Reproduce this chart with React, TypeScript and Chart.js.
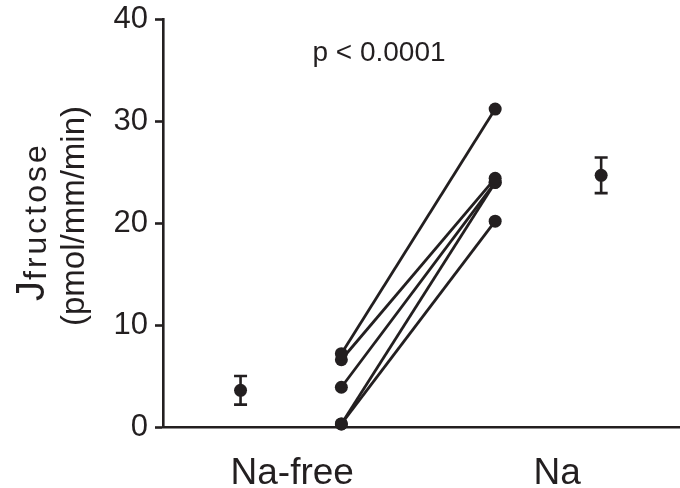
import React, { useEffect, useRef } from 'react';
import { Chart, registerables } from 'chart.js';

Chart.register(...registerables);

// ---- data ----
const categories = ['Na-free', 'Na'];
const naFreeValues = [7.2, 6.6, 3.9, 0.3, 0.3];
const naValues = [31.2, 24.4, 24.0, 24.0, 20.2];
const meanValues = [3.6, 24.7];
const semValues = [1.4, 1.75];
const yTickValues = [0, 10, 20, 30, 40];
const pValueLabel = 'p < 0.0001';
const yTitleMain = 'J';
const yTitleSub = 'fructose';
const yTitleUnits = '(pmol/mm/min)';

// ---- layout (x-positions on the linear axis) ----
const CATEGORY_X = [1, 2.025];
const PAIR_X = [1.19, 1.785];
const MEAN_X = [0.8, 2.195];

const INK = '#231f20';
const FONT = "'Liberation Sans', Arial, Helvetica, sans-serif";

const errorBarPlugin = {
  id: 'errorBars',
  afterDatasetsDraw(chart: any) {
    const { ctx, scales } = chart;
    const xs = scales.x;
    const ys = scales.y;
    ctx.save();
    ctx.strokeStyle = INK;
    ctx.lineWidth = 2.6;
    meanValues.forEach((m, i) => {
      const px = xs.getPixelForValue(MEAN_X[i]);
      const top = ys.getPixelForValue(m + semValues[i]);
      const bot = ys.getPixelForValue(m - semValues[i]);
      const half = 6.5;
      ctx.beginPath();
      ctx.moveTo(px, top);
      ctx.lineTo(px, bot);
      ctx.moveTo(px - half, top);
      ctx.lineTo(px + half, top);
      ctx.moveTo(px - half, bot);
      ctx.lineTo(px + half, bot);
      ctx.stroke();
    });
    ctx.restore();
  },
};

const textPlugin = {
  id: 'extraText',
  afterDraw(chart: any) {
    const { ctx } = chart;
    ctx.save();
    ctx.fillStyle = INK;
    ctx.textBaseline = 'alphabetic';

    // Y title: J with subscript
    ctx.save();
    ctx.translate(44, 301);
    ctx.rotate(-Math.PI / 2);
    ctx.font = `40px ${FONT}`;
    ctx.textAlign = 'left';
    ctx.fillText(yTitleMain, 0, 0);
    const w = ctx.measureText(yTitleMain).width;
    ctx.font = `32px ${FONT}`;
    try {
      (ctx as any).letterSpacing = '3px';
    } catch (e) {}
    ctx.fillText(yTitleSub, w + 1, 2);
    try {
      (ctx as any).letterSpacing = '0px';
    } catch (e) {}
    ctx.restore();

    // Y units
    ctx.save();
    ctx.translate(84, 216);
    ctx.rotate(-Math.PI / 2);
    ctx.font = `33px ${FONT}`;
    ctx.textAlign = 'center';
    ctx.fillText(yTitleUnits, 0, 0);
    ctx.restore();

    // p value
    ctx.font = `28px ${FONT}`;
    ctx.textAlign = 'center';
    ctx.fillText(pValueLabel, 379, 61);

    ctx.restore();
  },
};

export default function App() {
  const ref = useRef<HTMLCanvasElement | null>(null);

  useEffect(() => {
    if (!ref.current) return;
    const pairDatasets = naFreeValues.map((v, i) => ({
      type: 'scatter' as const,
      data: [
        { x: PAIR_X[0], y: v },
        { x: PAIR_X[1], y: naValues[i] },
      ],
      showLine: true,
      borderColor: INK,
      borderWidth: 2.8,
      pointRadius: 6.5,
      pointBackgroundColor: INK,
      pointBorderWidth: 0,
      clip: false as any,
    }));
    const meanDataset = {
      type: 'scatter' as const,
      data: meanValues.map((m, i) => ({ x: MEAN_X[i], y: m })),
      showLine: false,
      pointRadius: 6.5,
      pointBackgroundColor: INK,
      pointBorderWidth: 0,
      clip: false as any,
    };

    const chart = new Chart(ref.current, {
      type: 'scatter',
      data: { datasets: [...pairDatasets, meanDataset] as any },
      options: {
        animation: false,
        responsive: false,
        maintainAspectRatio: false,
        layout: { autoPadding: false, padding: { top: 13, left: 0, right: 0, bottom: 0 } },
        plugins: {
          legend: { display: false },
          tooltip: { enabled: false },
          title: { display: false },
        },
        scales: {
          x: {
            type: 'linear',
            position: 'bottom',
            min: 0.5,
            max: 2.5,
            afterBuildTicks: (s: any) => {
              s.ticks = CATEGORY_X.map((v) => ({ value: v }));
            },
            afterFit: (s: any) => {
              s.height = 61;
              s.paddingLeft = 0;
              s.paddingRight = 0;
            },
            grid: { display: true, drawOnChartArea: false, drawTicks: false },
            border: { display: true, color: INK, width: 2.6 },
            ticks: {
              autoSkip: false,
              maxRotation: 0,
              padding: 25,
              color: INK,
              font: { family: FONT, size: 37 },
              callback: (_v: any, idx: number) => categories[idx],
            },
          },
          y: {
            type: 'linear',
            min: 0,
            max: 40,
            afterBuildTicks: (s: any) => {
              s.ticks = yTickValues.map((v) => ({ value: v }));
            },
            afterFit: (s: any) => {
              s.width = 163;
            },
            grid: {
              display: true,
              drawOnChartArea: false,
              drawTicks: true,
              tickLength: 8,
              tickWidth: 2.6,
              tickColor: INK,
            },
            border: { display: true, color: INK, width: 2.6 },
            ticks: {
              padding: 7,
              color: INK,
              font: { family: FONT, size: 31, lineHeight: 0.8 },
              callback: (v: any) => String(v),
            },
          },
        },
      },
      plugins: [errorBarPlugin, textPlugin],
    });
    return () => chart.destroy();
  }, []);

  return (
    <div style={{ position: 'fixed', left: 0, top: 0, width: 680, height: 488, background: '#fff' }}>
      <canvas ref={ref} width={680} height={488} style={{ display: 'block', width: 680, height: 488 }} />
    </div>
  );
}
